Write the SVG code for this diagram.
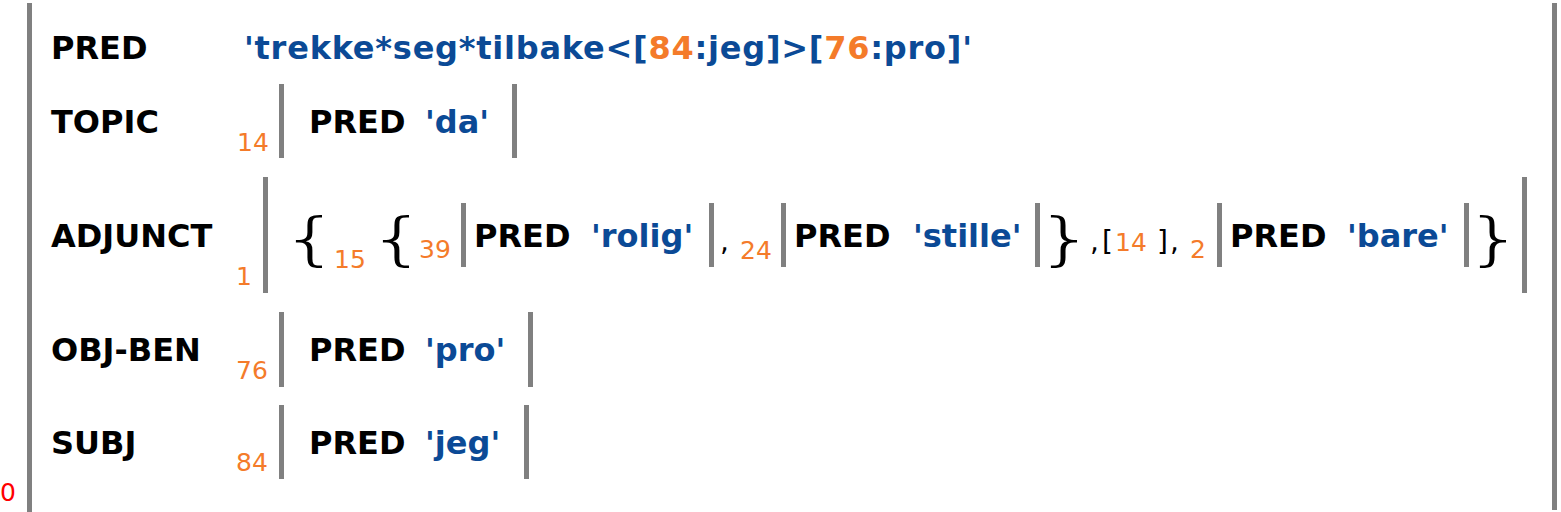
<svg xmlns="http://www.w3.org/2000/svg" width="1561" height="512" viewBox="0 0 1561 512">
<style>
.bar{fill:#808080}
.lab{font-family:"DejaVu Sans",Verdana,sans-serif;font-weight:bold;font-size:32px;fill:#000}
.val{font-family:"DejaVu Sans",Verdana,sans-serif;font-weight:bold;font-size:32px;fill:#0b4a96}
.num{font-family:"DejaVu Sans",Verdana,sans-serif;font-size:25px;fill:#f47b2a}
.bnum{fill:#f47b2a}
.punc{font-family:"DejaVu Sans",Verdana,sans-serif;font-size:28px;fill:#000}
.brace{font-family:"DejaVu Sans",Verdana,sans-serif;font-weight:200;font-size:57px;letter-spacing:-11px;fill:#000}
.root{font-family:"DejaVu Sans",Verdana,sans-serif;font-size:25px;fill:#ff0000}
</style>
<rect width="1561" height="512" fill="#ffffff"/>
<g id="f0">
  <rect class="bar" x="27" y="3" width="5" height="509"/>
  <rect class="bar" x="1552" y="3" width="5" height="507"/>
  <text class="root" x="0" y="501">0</text>
  <text class="lab" x="51" y="59">PRED</text>
  <text class="val" x="244" y="59" textLength="728" lengthAdjust="spacing">'trekke*seg*tilbake&lt;[<tspan class="bnum">84</tspan>:jeg]&gt;[<tspan class="bnum">76</tspan>:pro]'</text>
  <text class="lab" x="51" y="133">TOPIC</text>
  <text class="lab" x="51" y="247">ADJUNCT</text>
  <text class="lab" x="51" y="361">OBJ-BEN</text>
  <text class="lab" x="51" y="454">SUBJ</text>
</g>
<g id="f14">
  <text class="num" x="237" y="151">14</text>
  <rect class="bar" x="279" y="84" width="5" height="74"/>
  <rect class="bar" x="512" y="84" width="5" height="74"/>
  <text class="lab" x="309" y="133">PRED</text>
  <text class="val" x="425" y="133">'da'</text>
</g>
<g id="f1">
  <text class="num" x="236" y="285">1</text>
  <rect class="bar" x="263" y="177" width="5" height="116"/>
  <rect class="bar" x="1522" y="177" width="5" height="116"/>
  <text class="brace" transform="translate(279 258) scale(1.75 1)">{</text>
  <text class="brace" transform="translate(1034 258) scale(1.75 1)">}</text>
  <text class="brace" transform="translate(1463 258) scale(1.75 1)">}</text>
  <text class="num" x="334" y="268">15</text>
  <text class="brace" transform="translate(366 258) scale(1.75 1)">{</text>
  <text class="punc" y="251"><tspan x="1090">,</tspan><tspan x="1102">[</tspan><tspan x="1115" class="bnum" font-size="25">14</tspan><tspan x="1157">]</tspan><tspan x="1170">,</tspan></text>
</g>
<g id="f39">
  <text class="num" x="419" y="258">39</text>
  <rect class="bar" x="461" y="203" width="5" height="64"/>
  <rect class="bar" x="709" y="203" width="5" height="64"/>
  <text class="lab" x="474" y="247">PRED</text>
  <text class="val" x="591" y="247">'rolig'</text>
  <text class="punc" x="720" y="251">,</text>
</g>
<g id="f24">
  <text class="num" x="740" y="259">24</text>
  <rect class="bar" x="781" y="203" width="5" height="64"/>
  <rect class="bar" x="1035" y="203" width="5" height="64"/>
  <text class="lab" x="794" y="247">PRED</text>
  <text class="val" x="913" y="247">'stille'</text>
</g>
<g id="f2">
  <text class="num" x="1190" y="258">2</text>
  <rect class="bar" x="1217" y="203" width="5" height="64"/>
  <rect class="bar" x="1464" y="203" width="5" height="64"/>
  <text class="lab" x="1230" y="247">PRED</text>
  <text class="val" x="1347" y="247">'bare'</text>
</g>
<g id="f76">
  <text class="num" x="236" y="379">76</text>
  <rect class="bar" x="279" y="312" width="5" height="75"/>
  <rect class="bar" x="528" y="312" width="5" height="75"/>
  <text class="lab" x="309" y="361">PRED</text>
  <text class="val" x="425" y="361">'pro'</text>
</g>
<g id="f84">
  <text class="num" x="236" y="471">84</text>
  <rect class="bar" x="279" y="405" width="5" height="74"/>
  <rect class="bar" x="524" y="405" width="5" height="74"/>
  <text class="lab" x="309" y="454">PRED</text>
  <text class="val" x="425" y="454">'jeg'</text>
</g>
<g id="connectors"/>
</svg>
